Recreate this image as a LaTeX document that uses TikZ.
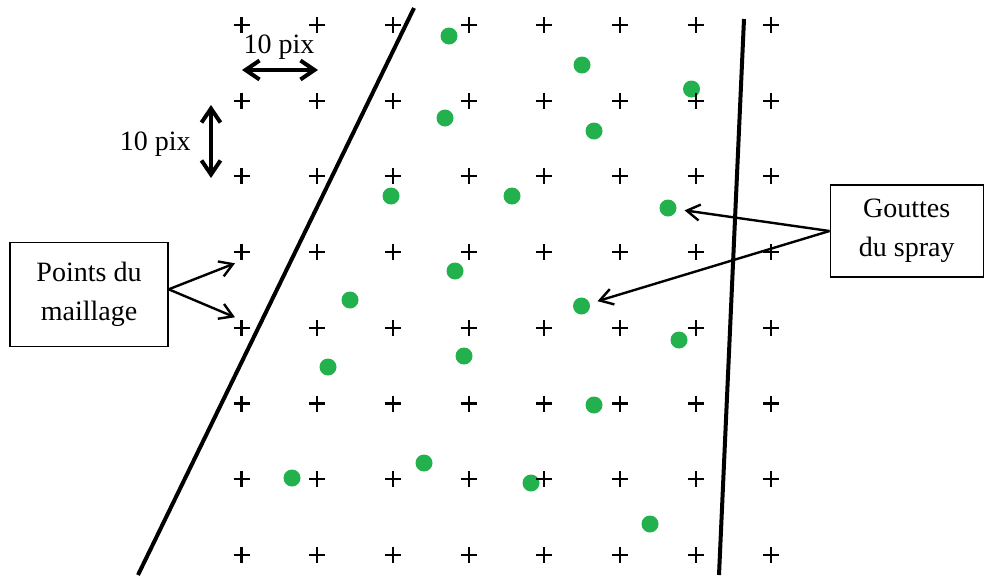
\documentclass[tikz,border=0pt]{standalone}
\usepackage{fontspec}
\setmainfont{Liberation Serif}
\usetikzlibrary{arrows.meta}
\definecolor{dropc}{RGB}{34,177,76}
\begin{document}
\begin{tikzpicture}[x=1pt,y=-1pt,
  crossline/.style={line width=2.1pt},
  dropdot/.style={circle, fill=dropc, inner sep=0pt, minimum size=17pt},
  boundary/.style={line width=4pt},
  labelbox/.style={draw, line width=1.4pt, align=center, inner sep=0pt,
    font=\fontsize{28}{39}\selectfont},
  txt/.style={font=\fontsize{28}{39}\selectfont, inner sep=0pt},
  thinarrow/.style={line width=2.4pt, -{Straight Barb[length=13pt,width=16pt]}},
  dblarrow/.style={line width=4pt, {Straight Barb[length=14pt,width=19pt]}-{Straight Barb[length=14pt,width=19pt]}}
]
\useasboundingbox (0,0) rectangle (984,576);
% boundaries
\coordinate (la) at (138,575);
\coordinate (lb) at (414,8);
\coordinate (ra) at (744,19);
\coordinate (rb) at (719,575);
\draw[boundary] (la) -- (lb);
\draw[boundary] (ra) -- (rb);
% drops
\node[dropdot] (d1) at (449,36) {};
\node[dropdot] (d2) at (582,65) {};
\node[dropdot] (d3) at (691.5,89) {};
\node[dropdot] (d4) at (445,118) {};
\node[dropdot] (d5) at (594,131) {};
\node[dropdot] (d6) at (391,196) {};
\node[dropdot] (d7) at (512,196) {};
\node[dropdot] (d8) at (668,208) {};
\node[dropdot] (d9) at (455,271) {};
\node[dropdot] (d10) at (350,300) {};
\node[dropdot] (d11) at (581.5,306) {};
\node[dropdot] (d12) at (679,340) {};
\node[dropdot] (d13) at (464,356) {};
\node[dropdot] (d14) at (328,367) {};
\node[dropdot] (d15) at (594,405) {};
\node[dropdot] (d16) at (424,463) {};
\node[dropdot] (d17) at (292,478) {};
\node[dropdot] (d18) at (531,483) {};
\node[dropdot] (d19) at (650,524) {};
% grid of mesh points
\foreach \i in {0,...,7}{
  \foreach \j in {0,...,7}{
    \pgfmathsetmacro{\px}{241.5+75.7*\i}
    \pgfmathsetmacro{\py}{25+75.7*\j}
    \draw[crossline] (\px-8,\py) -- (\px+8,\py);
    \draw[crossline] (\px,\py-8) -- (\px,\py+8);
  }
}
% labels boxes
\node[labelbox, minimum width=158pt, minimum height=104pt] (lbox) at (89,294.3) {Points du\\maillage};
\node[labelbox, minimum width=153pt, minimum height=92pt] (rbox) at (906.7,231) {Gouttes\\du spray};
\coordinate (p1) at (235,263.3);
\coordinate (p2) at (235,317.3);
\draw[thinarrow] ([yshift=5pt]lbox.east) -- (p1);
\draw[thinarrow] ([yshift=5pt]lbox.east) -- (p2);
\draw[thinarrow, shorten >=8pt] (rbox.west) -- (d8);
\draw[thinarrow, shorten >=8pt] (rbox.west) -- (d11);
% scale arrows
\coordinate (h1) at (242,70);
\coordinate (h2) at (318,70);
\coordinate (v1) at (211,105);
\coordinate (v2) at (211,178);
\draw[dblarrow] (h1) -- (h2);
\draw[dblarrow] (v1) -- (v2);
\node[txt, anchor=base] (ht) at (279,53.3) {10 pix};
\node[txt, anchor=base] (vt) at (155.3,150) {10 pix};
\end{tikzpicture}
\end{document}
